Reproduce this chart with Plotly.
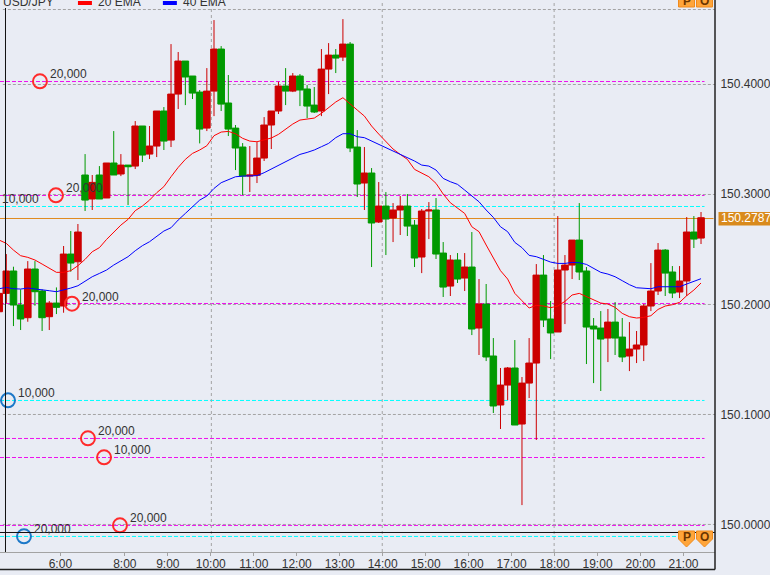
import plotly.graph_objects as go

FONT = "Liberation Sans"
W, H = 770, 575
PLOT_R, PLOT_B = 715.5, 552.0

# candle numbers, starting one candle left of the frame
candle_no = list(range(-1, 98))

opens = [150.1933,150.2100,150.2303,150.1994,150.1879,150.2321,150.2121,150.1888,150.2012,150.1985,150.2457,150.2387,
150.3175,150.2957,150.3175,150.2966,150.3284,150.3184,150.3265,150.3256,150.3620,150.3365,150.3438,150.3756,150.3492,
150.3910,150.4210,150.4074,150.3928,150.3601,150.3937,150.4319,150.3829,150.3601,150.3429,150.3165,150.3172,150.3329,
150.3629,150.3756,150.3983,150.3937,150.4074,150.3956,150.3810,150.3756,150.4137,150.4264,150.4246,150.4364,150.3429,
150.3102,150.3193,150.2748,150.2893,150.2784,150.2857,150.2893,150.2720,150.2430,150.2848,150.2857,150.2466,150.2166,
150.2403,150.2239,150.2339,150.1785,150.2003,150.1531,150.1086,150.1267,150.1422,150.0913,150.1285,150.1467,150.2266,
150.1867,150.1749,150.2312,150.2357,150.2584,150.2303,150.1803,150.1785,150.1694,150.1839,150.1703,150.1531,150.1594,
150.1631,150.1985,150.2121,150.2493,150.2294,150.2112,150.2212,150.2657,150.2602]
closes = [150.2100,150.2303,150.1994,150.1867,150.2321,150.2115,150.1879,150.2012,150.1973,150.2457,150.2375,150.2657,
150.2947,150.3108,150.2957,150.3284,150.3175,150.3265,150.3250,150.3620,150.3356,150.3438,150.3756,150.3483,150.3910,
150.4210,150.4065,150.3919,150.3592,150.3937,150.4319,150.3819,150.3592,150.3420,150.3165,150.3175,150.3329,150.3629,
150.3756,150.3983,150.3937,150.4074,150.3947,150.3801,150.3747,150.4137,150.4264,150.4237,150.4364,150.3420,150.3093,
150.3193,150.2739,150.2893,150.2775,150.2857,150.2893,150.2711,150.2421,150.2848,150.2857,150.2457,150.2157,150.2403,
150.2230,150.2339,150.1776,150.2003,150.1522,150.1077,150.1267,150.1422,150.0904,150.1285,150.1467,150.2266,150.1858,
150.1740,150.2312,150.2357,150.2584,150.2294,150.1794,150.1776,150.1685,150.1839,150.1694,150.1522,150.1594,150.1631,
150.1985,150.2121,150.2493,150.2284,150.2103,150.2212,150.2657,150.2593,150.2787]
highs = [150.2100,150.2457,150.2342,150.2136,150.2393,150.2393,150.2136,150.2030,150.2154,150.2530,150.2666,150.2730,
150.3365,150.3175,150.3256,150.3284,150.3574,150.3365,150.3265,150.3665,150.3620,150.3620,150.3756,150.3792,150.4364,
150.4292,150.4210,150.4074,150.3947,150.4146,150.4582,150.4346,150.4083,150.3629,150.3465,150.3438,150.3474,150.3701,
150.3756,150.4022,150.4146,150.4101,150.4092,150.3992,150.3974,150.4319,150.4373,150.4319,150.4591,150.4383,150.3583,
150.3429,150.3238,150.3111,150.3020,150.2920,150.2984,150.3002,150.2766,150.2866,150.2929,150.2966,150.2566,150.2448,
150.2466,150.2466,150.2657,150.2230,150.2185,150.1694,150.1422,150.1431,150.1676,150.1340,150.1694,150.2366,150.2448,
150.2030,150.2802,150.2448,150.2584,150.2920,150.2339,150.1876,150.1939,150.1958,150.2021,150.1876,150.1839,150.1758,
150.2003,150.2375,150.2557,150.2502,150.2348,150.2348,150.2793,150.2802,150.2839]
lows = [150.1933,150.2009,150.1803,150.1767,150.1842,150.1988,150.1758,150.1767,150.1912,150.1924,150.2297,150.2221,
150.2848,150.2857,150.2957,150.2966,150.3175,150.3165,150.2902,150.3229,150.3293,150.3320,150.3338,150.3402,150.3429,
150.3774,150.3810,150.3865,150.3462,150.3574,150.3710,150.3756,150.3529,150.3220,150.2993,150.3020,150.3102,150.3302,
150.3411,150.3729,150.3810,150.3928,150.3801,150.3692,150.3738,150.3710,150.3910,150.4101,150.4210,150.3383,150.2975,
150.2857,150.2339,150.2739,150.2448,150.2566,150.2630,150.2621,150.2339,150.2284,150.2593,150.2412,150.2067,150.2076,
150.2194,150.2121,150.1721,150.1540,150.1485,150.1013,150.0868,150.1131,150.0904,150.0177,150.1149,150.0768,150.1794,
150.1503,150.1749,150.1821,150.2230,150.2221,150.1458,150.1285,150.1213,150.1476,150.1540,150.1476,150.1394,150.1467,
150.1485,150.1939,150.2085,150.2076,150.2057,150.2057,150.2076,150.2512,150.2548]

ema20 = [150.2584,150.2554,150.2493,150.2442,150.2427,150.2403,150.2366,150.2327,150.2291,150.2291,150.2306,150.2351,
150.2409,150.2478,150.2515,150.2590,150.2654,150.2720,150.2772,150.2851,150.2893,150.2947,150.3014,150.3069,150.3159,
150.3244,150.3317,150.3371,150.3402,150.3441,150.3532,150.3565,150.3571,150.3550,150.3508,150.3483,150.3477,150.3492,
150.3511,150.3544,150.3592,150.3638,150.3674,150.3683,150.3692,150.3735,150.3789,150.3838,150.3877,150.3825,150.3765,
150.3710,150.3620,150.3547,150.3480,150.3411,150.3362,150.3317,150.3226,150.3196,150.3159,150.3099,150.3002,150.2923,
150.2872,150.2826,150.2705,150.2660,150.2539,150.2427,150.2306,150.2230,150.2100,150.2033,150.1967,150.1991,150.1985,
150.1970,150.1985,150.2027,150.2085,150.2100,150.2070,150.2045,150.2012,150.2003,150.1973,150.1918,150.1888,150.1876,
150.1882,150.1897,150.1954,150.1985,150.1997,150.2018,150.2079,150.2130,150.2194]
ema40 = [150.2142,150.2154,150.2142,150.2139,150.2148,150.2142,150.2130,150.2124,150.2115,150.2130,150.2148,150.2169,
150.2212,150.2251,150.2281,150.2312,150.2357,150.2393,150.2433,150.2487,150.2533,150.2569,150.2621,150.2666,150.2696,
150.2766,150.2826,150.2887,150.2947,150.2984,150.3053,150.3105,150.3135,150.3159,150.3165,150.3165,150.3169,150.3196,
150.3229,150.3259,150.3290,150.3326,150.3362,150.3380,150.3402,150.3432,150.3462,150.3514,150.3550,150.3550,150.3523,
150.3514,150.3483,150.3453,150.3426,150.3396,150.3365,150.3335,150.3302,150.3265,150.3256,150.3220,150.3144,150.3114,
150.3090,150.3038,150.2984,150.2932,150.2857,150.2790,150.2705,150.2660,150.2563,150.2515,150.2445,150.2433,150.2409,
150.2384,150.2372,150.2372,150.2381,150.2378,150.2363,150.2330,150.2291,150.2275,150.2251,150.2215,150.2179,150.2151,
150.2145,150.2142,150.2160,150.2160,150.2160,150.2160,150.2185,150.2206,150.2233]

# price levels
grid_levels = [150.4678, 150.3997, 150.2998, 150.1999, 150.1000, 150.0001]
sell_levels = [150.4024, 150.2989, 150.2008, 150.0782, 150.0609, 149.9992]
buy_levels = [150.2889, 150.1127, 149.9892]
last_line = 150.2780
last_price = "150.2787"
y_ticks = [150.0, 150.1, 150.2, 150.3, 150.4]

# x axis labels and the candle each one belongs to
hour_labels = ["6:00","8:00","9:00","10:00","11:00","12:00","13:00","14:00","15:00","16:00","17:00","18:00","19:00","20:00","21:00"]
hour_candles = [7.55,16.55,22.55,28.55,34.55,40.55,46.55,52.55,58.55,64.55,70.55,76.55,82.55,88.55,94.55]
vgrid_candles = [28.63, 52.49, 76.49]

# position markers
sell_x = [4.7, 6.93, 9.17, 11.4, 13.65, 15.87]
sell_y = [150.4026, 150.2990, 150.2006, 150.0783, 150.0611, 149.9993]
sell_text = ["20,000", "20,000", "20,000", "20,000", "10,000", "20,000"]
buy_x = [0.24, 2.47]
buy_y = [150.1128, 149.9893]
buy_text = ["10,000", "20,000"]
# the third buy order sits just left of the frame: only its label shows
hidden_label = "10,000"
hidden_label_y = 150.2890

X0 = -0.879
X1 = 98.95
Y0 = 149.97508
Y1 = 150.47645
CROSS_X = -0.112
CROSS_Y = 149.9928

def px(x):
    return x / PLOT_R

def py(y):
    return 1 - y / PLOT_B

fig = go.Figure()
fig.add_trace(go.Candlestick(
    x=candle_no, open=opens, high=highs, low=lows, close=closes,
    increasing=dict(line=dict(color="#cc0000", width=1), fillcolor="#cc0000"),
    decreasing=dict(line=dict(color="#009900", width=1), fillcolor="#009900"),
    whiskerwidth=0, hoverinfo="skip", showlegend=False))
fig.add_trace(go.Scatter(x=candle_no, y=ema20, mode="lines", line=dict(color="#ff0000", width=1), hoverinfo="skip", showlegend=False))
fig.add_trace(go.Scatter(x=candle_no, y=ema40, mode="lines", line=dict(color="#0000ff", width=1), hoverinfo="skip", showlegend=False))

annotations = []
for xs, ys, txt, col in [(sell_x, sell_y, sell_text, "#ff2a2a"), (buy_x, buy_y, buy_text, "#1c78c8")]:
    fig.add_trace(go.Scatter(
        x=xs, y=ys, mode="markers", cliponaxis=False,
        marker=dict(size=14, color="rgba(0,0,0,0)", line=dict(color=col, width=2)),
        hoverinfo="skip", showlegend=False))
    for a, b, t in zip(xs, ys, txt):
        annotations.append(dict(text=t, xref="x", yref="y", x=a, y=b, xanchor="left", yanchor="middle",
                                xshift=9, yshift=7, showarrow=False, borderpad=0,
                                font=dict(family=FONT, size=12, color="#333333")))
annotations.append(dict(text=hidden_label, xref="paper", yref="y", x=px(1), y=hidden_label_y, xanchor="left",
                        yanchor="middle", yshift=7, showarrow=False, borderpad=0,
                        font=dict(family=FONT, size=12, color="#333333")))

shapes = []
for v in grid_levels:
    shapes.append(dict(type="line", xref="paper", yref="y", x0=0.004, x1=1, y0=v, y1=v, layer="below",
                       line=dict(color="#a3a3a3", width=1, dash="3px,2px")))
for v in sell_levels:
    shapes.append(dict(type="line", xref="paper", yref="y", x0=0, x1=705/PLOT_R, y0=v, y1=v, layer="below",
                       line=dict(color="#ee11ee", width=1, dash="4px,2px")))
for v in buy_levels:
    shapes.append(dict(type="line", xref="paper", yref="y", x0=0, x1=705/PLOT_R, y0=v, y1=v, layer="below",
                       line=dict(color="#00ffff", width=1, dash="4px,2px")))
for v in vgrid_candles:
    shapes.append(dict(type="line", xref="x", yref="paper", x0=v, x1=v, y0=0, y1=1, layer="below",
                       line=dict(color="#a3a3a3", width=1, dash="3px,3px")))
shapes.append(dict(type="line", xref="paper", yref="y", x0=0, x1=714/PLOT_R, y0=last_line, y1=last_line,
                   layer="below", line=dict(color="#e08a1e", width=1)))
# crosshair
shapes.append(dict(type="line", xref="x", yref="paper", x0=CROSS_X, x1=CROSS_X, y0=0, y1=py(8),
                   line=dict(color="#111111", width=1)))
shapes.append(dict(type="line", xref="paper", yref="y", x0=0, x1=1, y0=CROSS_Y, y1=CROSS_Y,
                   line=dict(color="#111111", width=1)))
# frame
shapes.append(dict(type="line", xref="paper", yref="paper", x0=1, x1=1, y0=py(569.5), y1=1.01,
                   line=dict(color="#222222", width=1.5)))
shapes.append(dict(type="line", xref="paper", yref="paper", x0=0, x1=1, y0=py(569.5), y1=py(569.5),
                   line=dict(color="#222222", width=1.5)))
# legend swatches
shapes.append(dict(type="rect", xref="paper", yref="paper", x0=px(78), x1=px(92), y0=py(5), y1=py(1),
                   fillcolor="#ff0000", line=dict(width=0)))
shapes.append(dict(type="rect", xref="paper", yref="paper", x0=px(163), x1=px(177), y0=py(5), y1=py(1),
                   fillcolor="#0000ff", line=dict(width=0)))
# last price box
shapes.append(dict(type="rect", xref="paper", yref="paper", x0=px(719), x1=px(772), y0=py(225.5), y1=py(212),
                   fillcolor="#d98a1c", line=dict(width=0)))

# P / O badges
def badge_path(cx, top, bottom, point):
    l, r = px(cx - 8), px(cx + 8)
    if point:
        return f"M {l} {py(top)} L {r} {py(top)} L {r} {py(bottom - 8)} L {px(cx)} {py(bottom)} L {l} {py(bottom - 8)} Z"
    return f"M {l} {py(top)} L {r} {py(top)} L {r} {py(bottom)} L {l} {py(bottom)} Z"

def ann(text, x, y, size=12, color="#333333", bold=False, anchor="left", **kw):
    t = f"<b>{text}</b>" if bold else text
    annotations.append(dict(text=t, xref="paper", yref="paper", x=px(x), y=py(y), xanchor=anchor, yanchor="middle",
                            showarrow=False, borderpad=0, font=dict(family=FONT, size=size, color=color), **kw))

for cx, letter in [(687, "P"), (705, "O")]:
    shapes.append(dict(type="path", xref="paper", yref="paper", path=badge_path(cx, -4, 7, False),
                       fillcolor="#ffa53a", line=dict(color="#f08a1a", width=1)))
    shapes.append(dict(type="path", xref="paper", yref="paper", path=badge_path(cx, 531, 547, True),
                       fillcolor="#ffa53a", line=dict(color="#f08a1a", width=1)))
    ann(letter, cx, 1, color="#6b3500", bold=True, anchor="center")
    ann(letter, cx, 537, color="#6b3500", bold=True, anchor="center")

ann("USD/JPY", 2, 2)
ann("20 EMA", 97, 2)
ann("40 EMA", 182, 2)
ann(last_price, 721, 218.5, color="#ffffff")

fig.update_layout(
    width=W, height=H, autosize=False,
    margin=dict(l=0, r=W - PLOT_R, t=0, b=H - PLOT_B, autoexpand=False),
    paper_bgcolor="#e9ecf4", plot_bgcolor="#e9ecf4",
    boxgap=0.08, boxgroupgap=0, showlegend=False,
    font=dict(family=FONT, size=12, color="#333333"),
    shapes=shapes, annotations=annotations,
    xaxis=dict(range=[X0, X1], rangeslider=dict(visible=False), showgrid=False, zeroline=False,
               tickmode="array", tickvals=hour_candles, ticktext=hour_labels, ticks="outside", ticklen=3,
               tickcolor="#a3a3a3", showline=True, linecolor="#a3a3a3", linewidth=1, ticklabelstandoff=-2,
               tickfont=dict(family=FONT, size=12, color="#333333")),
    yaxis=dict(range=[Y0, Y1], side="right", showgrid=False, zeroline=False, tickmode="array",
               tickvals=y_ticks, tickformat=".4f", ticks="outside", ticklen=2, tickcolor="rgba(0,0,0,0)",
               tickfont=dict(family=FONT, size=12, color="#333333"), showline=False),
)
fig.write_html("out.html", config=dict(displayModeBar=False),
               post_script="document.body.style.margin='0';document.documentElement.style.background='#e9ecf4';")
